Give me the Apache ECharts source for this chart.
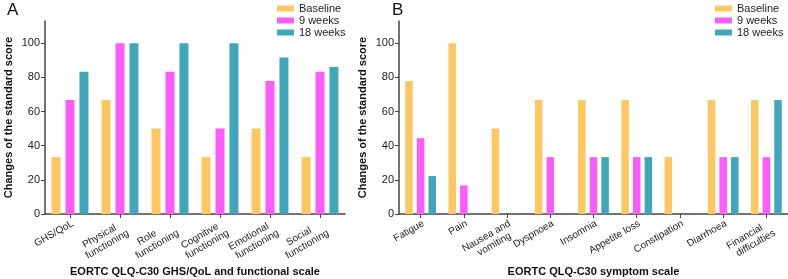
<!DOCTYPE html>
<html>
<head>
<meta charset="utf-8">
<script src="https://cdn.jsdelivr.net/npm/echarts@6/dist/echarts.min.js"></script>
<style>
html, body { margin: 0; padding: 0; background: #fff; }
#main { width: 788px; height: 279px; }
</style>
</head>
<body>
<div id="main"></div>
<script>
// panel A
var catsA = ['GHS/QoL', 'Physical\nfunctioning', 'Role\nfunctioning', 'Cognitive\nfunctioning', 'Emotional\nfunctioning', 'Social\nfunctioning'];
var baseA = [33.3, 66.7, 50, 33.3, 50, 33.3];
var wk9A = [66.7, 100, 83.3, 50, 77.8, 83.3];
var wk18A = [83.3, 100, 100, 100, 91.7, 86.1];

// panel B
var catsB = ['Fatigue', 'Pain', 'Nausea and\nvomiting', 'Dyspnoea', 'Insomnia', 'Appetite loss', 'Constipation', 'Diarrhoea', 'Financial\ndifficulties'];
var baseB = [77.8, 100, 50, 66.7, 66.7, 66.7, 33.3, 66.7, 66.7];
var wk9B = [44.4, 16.7, 0, 33.3, 33.3, 33.3, 0, 33.3, 33.3];
var wk18B = [22.2, 0, 0, 0, 33.3, 33.3, 0, 33.3, 66.7];

var yTicks = [0, 20, 40, 60, 80, 100];
var seriesNames = ['Baseline', '9 weeks', '18 weeks'];
var colors = ['#fdc862', '#fb5cfb', '#40a6b9'];

var chart = echarts.init(document.getElementById('main'));

// centre short lines of a two-line label (labels are right aligned when rotated)
function centreLines(val) {
	var lines = val.split('\n');
	if (lines.length < 2) return val;
	var w = Math.max.apply(null, lines.map(function(s) { return s.length; }));
	return lines.map(function(s) {
		var pad = Math.round((w - s.length) * 1.0);
		return s + new Array(pad + 1).join(' ');
	}).join('\n');
}

function makeX(idx, cats, name) {
	return {
		type : 'category',
		gridIndex : idx,
		data : cats,
		name : name,
		nameLocation : 'middle',
		nameGap : 52,
		nameMoveOverlap : false,
		nameTextStyle : {
			fontFamily : 'Liberation Sans',
			fontWeight : 'bold',
			fontSize : 11,
			color : '#111'
		},
		axisLine : { lineStyle : { color : '#444', width : 1.5 } },
		axisTick : { show : true, alignWithLabel : true, length : 4, lineStyle : { color : '#444' } },
		axisLabel : {
			interval : 0,
			rotate : 30,
			verticalAlign : 'top',
			fontFamily : 'Liberation Sans',
			fontSize : 10,
			lineHeight : 11,
			color : '#222',
			margin : 4,
			formatter : centreLines
		}
	};
}

function makeY(idx) {
	return {
		type : 'value',
		gridIndex : idx,
		min : 0,
		max : 113,
		interval : 20,
		name : 'Changes of the standard score',
		nameLocation : 'middle',
		nameGap : 31,
		nameTextStyle : {
			fontFamily : 'Liberation Sans',
			fontWeight : 'bold',
			fontSize : 11,
			color : '#111'
		},
		splitLine : { show : false },
		axisLine : { show : true, lineStyle : { color : '#444', width : 1.5 } },
		axisTick : { show : true, length : 4, customValues : yTicks, lineStyle : { color : '#444' } },
		axisLabel : {
			customValues : yTicks,
			fontFamily : 'Liberation Sans',
			fontSize : 11,
			color : '#222',
			margin : 5
		}
	};
}

function makeBar(name, data, color, idx, width) {
	return {
		name : name,
		type : 'bar',
		xAxisIndex : idx,
		yAxisIndex : idx,
		data : data,
		barWidth : width,
		barGap : '55%',
		itemStyle : { color : color },
		emphasis : { disabled : true }
	};
}

function makeLegend(left) {
	return {
		orient : 'vertical',
		left : left,
		top : -2,
		icon : 'rect',
		itemWidth : 17,
		itemHeight : 6,
		itemGap : 1,
		data : seriesNames,
		textStyle : {
			fontFamily : 'Liberation Sans',
			fontSize : 11,
			color : '#222'
		}
	};
}

var option = {
	animation : false,
	color : colors,
	graphic : [
		{ type : 'text', left : 7, top : 2, style : { text : 'A', fontSize : 17, fontFamily : 'Liberation Sans', fill : '#111' } },
		{ type : 'text', left : 392, top : 2, style : { text : 'B', fontSize : 17, fontFamily : 'Liberation Sans', fill : '#111' } }
	],
	legend : [ makeLegend(272), makeLegend(710) ],
	grid : [
		{ left : 45, width : 300, top : 21, bottom : 65, outerBoundsMode : 'none' },
		{ left : 399, width : 389, top : 21, bottom : 65, outerBoundsMode : 'none' }
	],
	xAxis : [
		makeX(0, catsA, 'EORTC QLQ-C30 GHS/QoL and functional scale'),
		makeX(1, catsB, 'EORTC QLQ-C30 symptom scale')
	],
	yAxis : [ makeY(0), makeY(1) ],
	series : [
		makeBar('Baseline', baseA, colors[0], 0, 9),
		makeBar('9 weeks', wk9A, colors[1], 0, 9),
		makeBar('18 weeks', wk18A, colors[2], 0, 9),
		makeBar('Baseline', baseB, colors[0], 1, 7.5),
		makeBar('9 weeks', wk9B, colors[1], 1, 7.5),
		makeBar('18 weeks', wk18B, colors[2], 1, 7.5)
	]
};

chart.setOption(option, true);
</script>
</body>
</html>
